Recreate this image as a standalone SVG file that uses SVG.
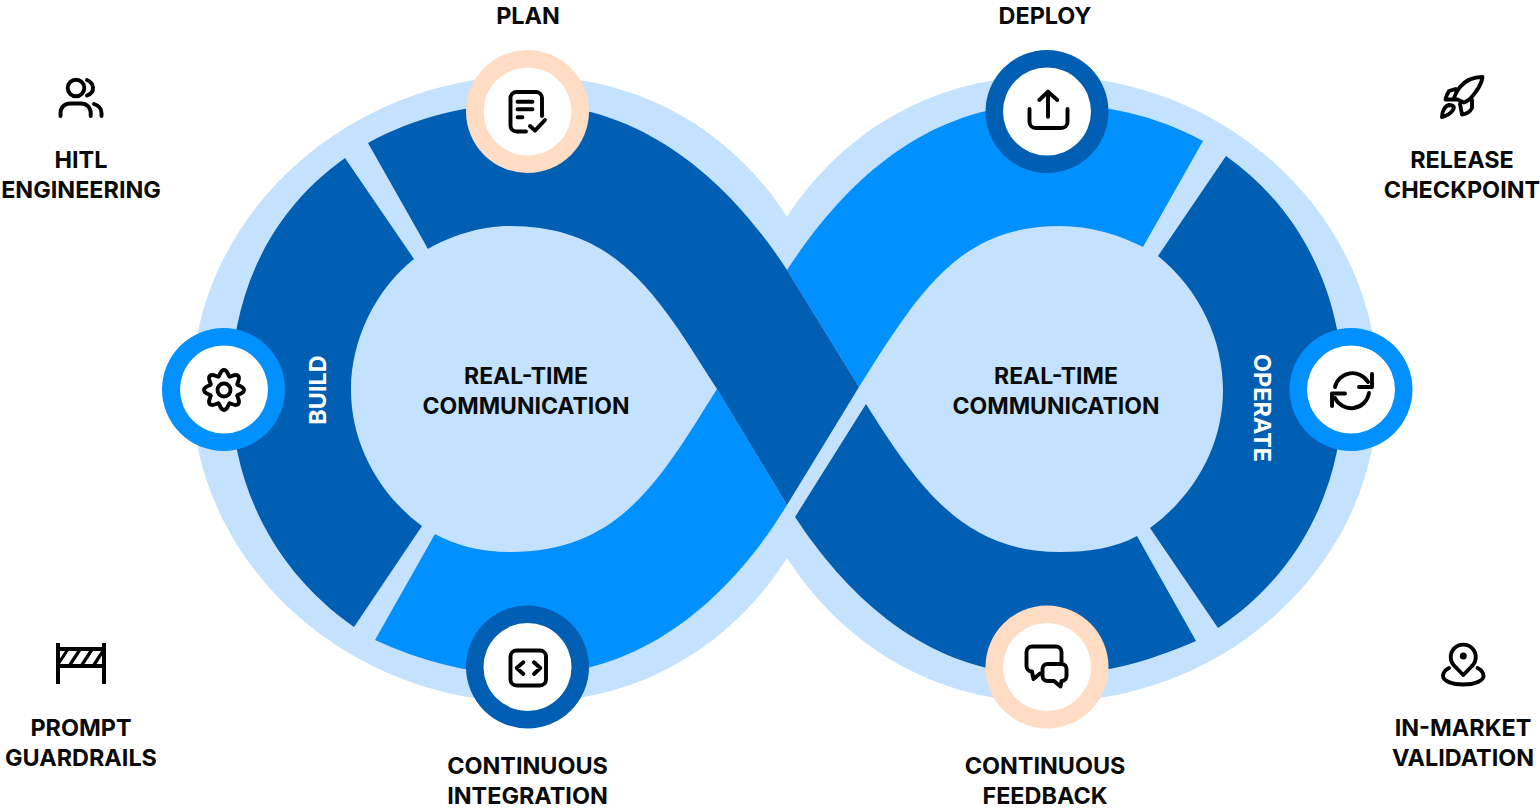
<svg xmlns="http://www.w3.org/2000/svg" xmlns:xlink="http://www.w3.org/1999/xlink" width="1540" height="810" viewBox="0 0 1540 810">
<style>
.dark{fill:#005EB3}.bright{fill:#0090FF}.light{fill:#C4E2FD}.peach{fill:#FFDCC4}.white{fill:#fff}
.t{font-family:"Inter","Liberation Sans",sans-serif;font-weight:700;font-size:23.4px;fill:#0a0a0a;text-anchor:middle}
.c{font-size:23px}
.tw{fill:#fff}
.i{fill:none;stroke:#000;stroke-width:3.9;stroke-linecap:round;stroke-linejoin:round}
</style>
<defs><path id="tooth" d="M-5.55,-13.4C-4.2,-13.9 -3.8,-20 0,-20S4.2,-13.9 5.55,-13.4"/></defs>
<rect width="1540" height="810" fill="#fff"/>
<g id="connectors">
<path class="light" d="M787,217C745,150 660,76 527,76C350,76 192,215 192,390C192,565 350,702 527,702C660,702 745,625 787,558C830,625 915,702 1047,702C1225,702 1378,565 1378,390C1378,215 1225,76 1047,76C915,76 830,150 787,217Z"/>
<path class="bright" d="M787,270C840,190 920,104 1047,104C1105,104 1155,115 1203,141L1143,247C1120,235 1090,226 1060,226C960,226 920,290 859,387Z"/>
<path class="bright" d="M435,534L375,640C425,663 475,675 527,675C650,675 735,590 787,505L717,389C660,480 620,552 510,552C480,552 455,545 435,534Z"/>
<path class="dark" d="M368,143C420,115 470,104 527,104C650,104 735,190 787,270L859,387L787,505L717,389C660,300 620,226 510,226C480,226 450,236 428,249Z"/>
<path class="dark" d="M345,158L414,259C375,290 351,340 351,390C351,445 380,495 422,526L354,627C270,568 231,480 231,390C231,300 265,215 345,158Z"/>
<path class="dark" d="M866,404C920,490 965,552 1060,552C1090,552 1115,548 1137,536L1196,641C1145,663 1100,675 1047,675C930,675 850,600 795,517Z"/>
<path class="dark" d="M1226,156C1305,212 1343,300 1343,390C1343,480 1305,570 1218,628L1150,528C1195,495 1223,445 1223,390C1223,340 1200,290 1158,256Z"/>
</g>
<g id="label-build"><text class="t tw" transform="translate(326,390) rotate(-90)">BUILD</text></g>
<g id="label-operate"><text class="t tw" transform="translate(1254,408) rotate(90)">OPERATE</text></g>
<g id="rtc-left"><text class="t c" x="526" y="384">REAL-TIME</text><text class="t c" x="526" y="414">COMMUNICATION</text></g>
<g id="rtc-right"><text class="t c" x="1056" y="384">REAL-TIME</text><text class="t c" x="1056" y="414">COMMUNICATION</text></g>
<g id="plan">
<circle class="peach" cx="527.5" cy="111.5" r="61.5"/><circle class="white" cx="527.5" cy="111.5" r="44"/>
<path class="i" d="M542,116V98a6,6 0 0 0-6-6H516.500a6,6 0 0 0-6,6V125.500a6,6 0 0 0 6,6H526M517.500,101.700H532.500M517.500,109.300H532.500M517.500,117.300H522.500M530,126L535,130.700L545,120"/>
<text class="t" x="528" y="24">PLAN</text>
</g>
<g id="deploy">
<circle class="dark" cx="1047" cy="111.500" r="61.500"/><circle class="white" cx="1047" cy="111.500" r="44"/>
<path class="i" d="M1048,116.700V91.700M1039.300,100L1048,91.700L1057.300,100M1029.500,109V122a6,6 0 0 0 6,6H1061.500a6,6 0 0 0 6-6V109"/>
<text class="t" x="1045" y="24">DEPLOY</text>
</g>
<g id="build">
<circle class="bright" cx="223.500" cy="389.500" r="61.500"/><circle class="white" cx="224" cy="389.500" r="44"/>
<circle class="i" cx="224" cy="390" r="6.500"/>
<g class="i" transform="translate(224,390)">
<use xlink:href="#tooth" href="#tooth"/><use href="#tooth" transform="rotate(45)"/><use href="#tooth" transform="rotate(90)"/><use href="#tooth" transform="rotate(135)"/><use href="#tooth" transform="rotate(180)"/><use href="#tooth" transform="rotate(225)"/><use href="#tooth" transform="rotate(270)"/><use href="#tooth" transform="rotate(315)"/>
</g>
</g>
<g id="operate">
<circle class="bright" cx="1351" cy="389.500" r="61.500"/><circle class="white" cx="1351" cy="389.500" r="44"/>
<path class="i" d="M1335,387A18,18 0 0 1 1368,382M1372,374V387H1359M1369,393A18,18 0 0 1 1335,398M1332,406V393.500H1345"/>
</g>
<g id="continuous-integration">
<circle class="dark" cx="527.500" cy="667" r="61.500"/><circle class="white" cx="527.500" cy="667" r="44"/>
<rect class="i" x="510.500" y="650.500" width="35.500" height="35" rx="6"/>
<path class="i" d="M523.300,662.300L516.700,668L523.300,674M534,662.300L540.300,668L534,674"/>
<text class="t" x="527.500" y="774">CONTINUOUS</text><text class="t" x="527.500" y="804">INTEGRATION</text>
</g>
<g id="continuous-feedback">
<circle class="peach" cx="1047" cy="667" r="61.500"/><circle class="white" cx="1047" cy="667" r="44"/>
<path class="i" d="M1061.500,662V652a5.500,5.500 0 0 0-5.500-5.500H1032a5.500,5.500 0 0 0-5.500,5.500V666a5.500,5.500 0 0 0 5.500,5.500L1033.500,679L1040,673.500"/>
<path class="i" d="M1047.500,664H1061.500a5,5 0 0 1 5,5V676a5,5 0 0 1-5,5L1060.500,686.500L1054,681H1047.500a5,5 0 0 1-5-5V669a5,5 0 0 1 5-5Z"/>
<text class="t" x="1045" y="774">CONTINUOUS</text><text class="t" x="1045" y="804">FEEDBACK</text>
</g>
<g id="hitl">
<circle class="i" cx="76" cy="88" r="8.300"/>
<path class="i" d="M87,80C94,83 96,92 87,95.500M60.500,116V113C60.500,107 65,103.500 70,103.500H81C87,103.500 90.700,108 90.700,113V116M94,104C98.500,105.500 101.500,109 101.500,113V116"/>
<text class="t" x="81" y="168">HITL</text><text class="t" x="81" y="198">ENGINEERING</text>
</g>
<g id="prompt-guardrails">
<rect x="57" y="647" width="49" height="21" fill="#000"/>
<path fill="#fff" d="M60,664L68.500,651H77L68.500,664ZM72.500,664L81,651H89L80.500,664ZM84.500,664L93,651H101L92.500,664ZM96.500,664L102,655.500V664ZM60,651H65L60,658.500Z"/>
<path fill="#000" d="M56,643h4v41h-4ZM102,643h4v41h-4Z"/>
<text class="t" x="81" y="736">PROMPT</text><text class="t" x="81" y="766">GUARDRAILS</text>
</g>
<g id="release-checkpoint">
<path class="i" d="M1482.500,77C1473,77 1465,81 1460,87C1456.500,91 1455,95 1454,98L1464,102.500C1469,101 1473,96 1476,91.500C1480,86 1482,81 1482.500,77ZM1455.500,89L1449,91C1447,94 1446,97 1445.500,99.500L1456,99.500M1472,100L1472,108C1470,112 1466,114 1462,114.500L1460,104M1442,117C1442,111 1445,106 1449,105C1453,105 1455,106.500 1453,110C1451,113 1446,116 1442,117Z"/>
<text class="t" x="1462" y="168">RELEASE</text><text class="t" x="1462" y="198">CHECKPOINT</text>
</g>
<g id="in-market-validation">
<path class="i" d="M1463.300,675L1455,666.500A12.500,12.500 0 1 1 1471.500,666.500Z"/>
<circle cx="1463.300" cy="656" r="3.500" fill="#000"/>
<path class="i" d="M1449,668C1445,670 1443,673 1443,676C1443,681 1452,684.500 1463.300,684.500C1474.500,684.500 1483.500,681 1483.500,676C1483.500,673 1481.500,670 1477.500,668"/>
<text class="t" x="1463" y="736">IN-MARKET</text><text class="t" x="1463" y="766">VALIDATION</text>
</g>
</svg>
